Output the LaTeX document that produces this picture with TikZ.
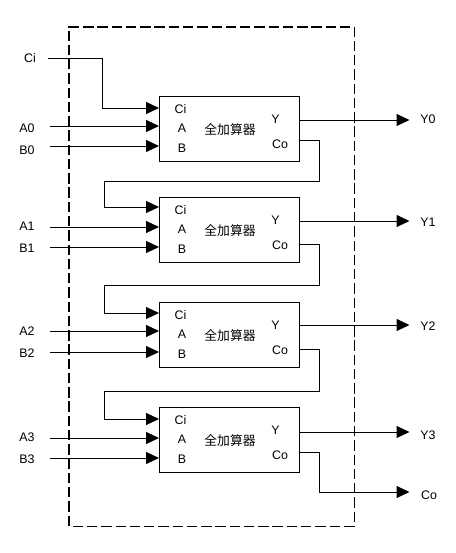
\documentclass[tikz,border=0pt]{standalone}
\usepackage{fontspec}
\setmainfont{Liberation Sans}
\newfontfamily\cjk{Noto Sans CJK JP}
\usetikzlibrary{arrows.meta}
\begin{document}
\begin{tikzpicture}[x=0.75pt,y=-0.75pt,
  lbl/.style={font=\fontsize{9.3pt}{10pt}\selectfont,inner sep=0pt,anchor=center},
  adder/.style={draw,line width=0.75pt,minimum width=105pt,minimum height=48.75pt,inner sep=0pt,anchor=north west},
  core/.style={font=\cjk\fontsize{9.6pt}{10pt}\selectfont,inner sep=0pt},
  wire/.style={line width=0.75pt,-{Triangle[length=9.75pt,width=9pt]}},
  link/.style={line width=0.75pt},
  frameheavy/.style={line width=1.5pt,dash pattern=on 7.8pt off 2.9pt},
  framelight/.style={line width=0.75pt,dash pattern=on 7.8pt off 2.9pt}]
\useasboundingbox (0,0) rectangle (455,553);
\fill[white] (0,0) rectangle (455,553);
% frame
\coordinate (fa) at (69,26.5);
\coordinate (fb) at (354,26.5);
\coordinate (fc) at (354,526);
\coordinate (fd) at (69,526);
\draw[frameheavy] (fd) -- (fa) -- (fb);
\draw[framelight] (fb) -- (fc) -- (fd);
% adders
\foreach \n/\t in {0/96,1/197,2/302,3/407}{
  \node[adder] (fa\n) at (159,\t) {};
  \node[core] (core\n) at (230,\t+34) {全加算器};
  \node[lbl] (ci\n) at (180.5,\t+13.5) {Ci};
  \node[lbl] (a\n) at (182,\t+32.5) {A};
  \node[lbl] (b\n) at (182,\t+52.5) {B};
  \node[lbl] (y\n) at (275.5,\t+23) {Y};
  \node[lbl] (co\n) at (280,\t+48) {Co};
}
% outer labels
\node[lbl] (Ci) at (30,58) {Ci};
\node[lbl] (A0) at (27,128) {A0};
\node[lbl] (B0) at (27,150) {B0};
\node[lbl] (A1) at (27,226) {A1};
\node[lbl] (B1) at (27,248) {B1};
\node[lbl] (A2) at (27,331) {A2};
\node[lbl] (B2) at (27,353) {B2};
\node[lbl] (A3) at (27,437) {A3};
\node[lbl] (B3) at (27,459) {B3};
\node[lbl] (Y0) at (428,119) {Y0};
\node[lbl] (Y1) at (428,222) {Y1};
\node[lbl] (Y2) at (428,326) {Y2};
\node[lbl] (Y3) at (428,435.5) {Y3};
\node[lbl] (Cout) at (429,495) {Co};
% carry in
\coordinate (sCi) at (48,58);
\draw[wire] (sCi) -| (102,108) -- (fa0.west |- 0,108);
% inputs
\foreach \n/\ya/\yb in {0/126/146,1/227/247,2/331/352,3/438/458}{
  \coordinate (sa\n) at (50,\ya);
  \coordinate (sb\n) at (50,\yb);
  \draw[wire] (sa\n) -- (fa\n.west |- sa\n);
  \draw[wire] (sb\n) -- (fa\n.west |- sb\n);
}
% outputs
\foreach \n/\yy in {0/120,1/221,2/325,3/432}{
  \coordinate (ey\n) at (409.5,\yy);
  \draw[wire] (fa\n.east |- ey\n) -- (ey\n);
}
% carries
\foreach \n/\m/\yc/\yr/\yi in {0/1/140/181/207,1/2/244/285/313,2/3/349/391/419}{
  \draw[wire] (fa\n.east |- 0,\yc) -| (319,\yr) -| (104,\yi) -- (fa\m.west |- 0,\yi);
}
% final carry
\coordinate (ec) at (409.5,492);
\draw[wire] (fa3.east |- 0,452) -| (319,492) -- (ec);
\end{tikzpicture}
\end{document}
